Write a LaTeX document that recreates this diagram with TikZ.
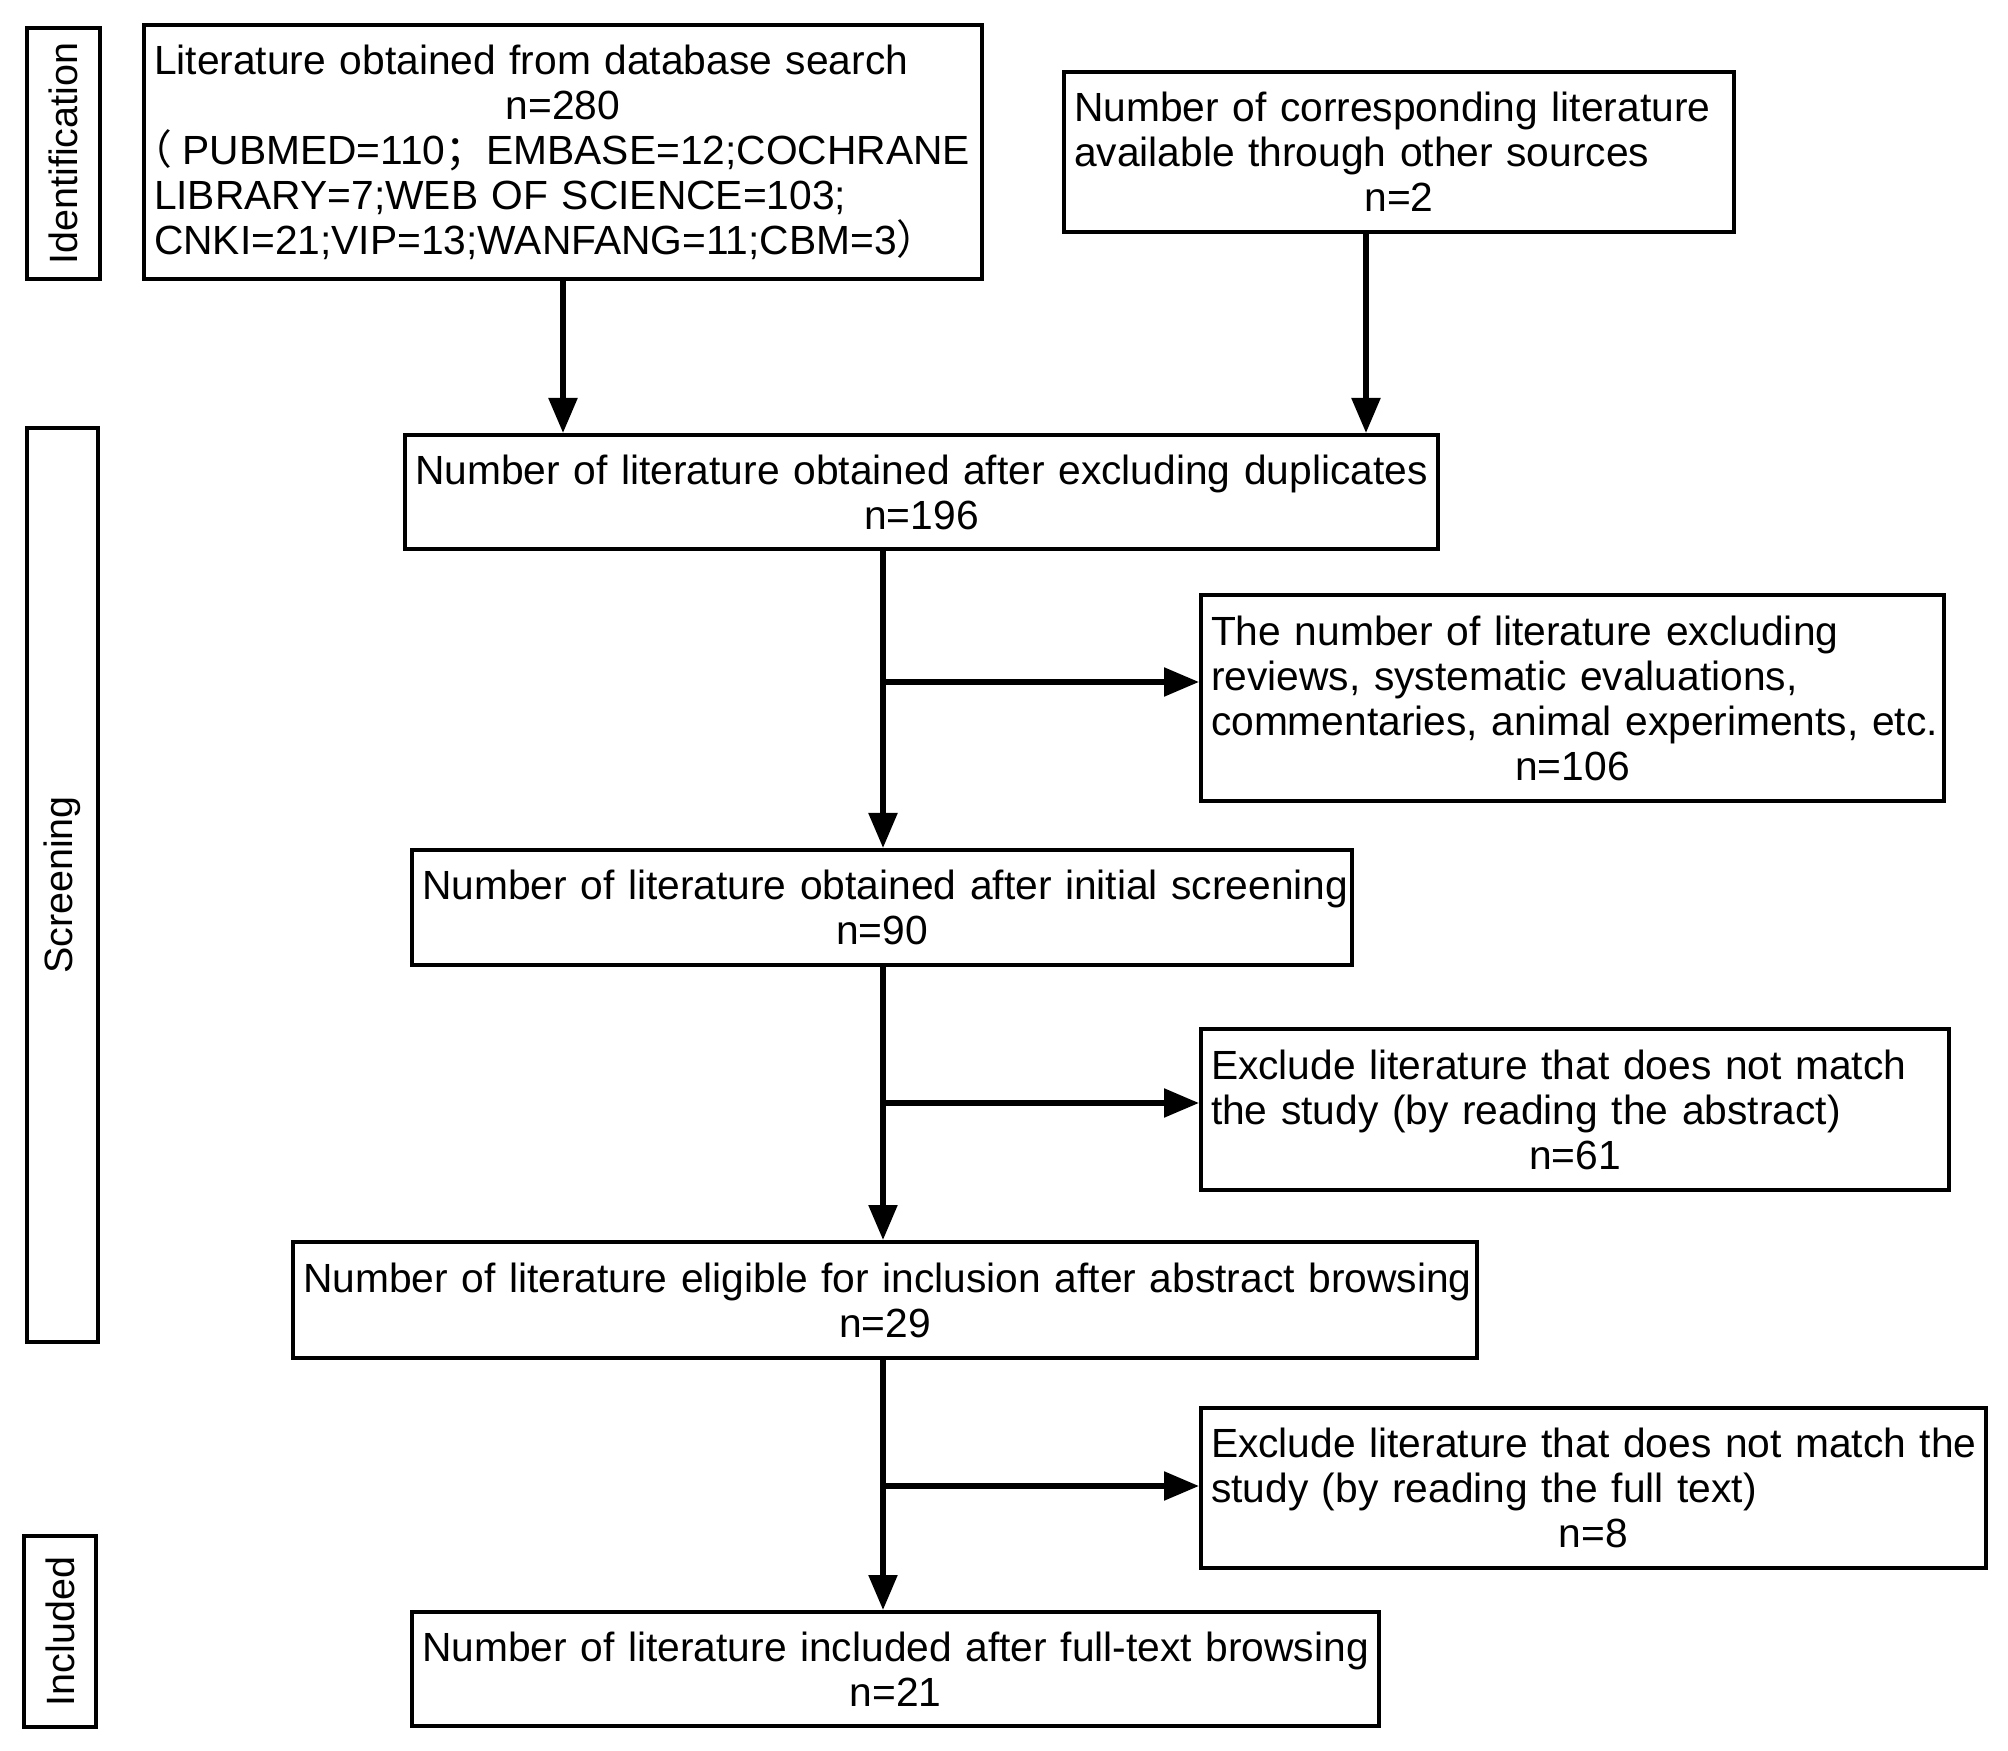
\documentclass[tikz,border=0pt]{standalone}
\usepackage{fontspec}
\setmainfont{Liberation Sans}
\newfontfamily\cjk{Noto Sans CJK SC}
\usetikzlibrary{arrows.meta}
\begin{document}
\begin{tikzpicture}[x=0.4pt,y=-0.4pt,
  bx/.style={draw, line width=1.6pt, anchor=north west, inner xsep=4pt, inner ysep=0pt,
             font=\fontsize{16.3}{18}\selectfont},
  lab/.style={draw, line width=1.6pt, inner sep=0pt, rotate=90,
             font=\fontsize{15.8}{18}\selectfont},
  arr/.style={line width=2.2pt, -{Triangle[length=14pt,width=11.2pt]}}
]
\useasboundingbox (0,0) rectangle (2008,1751);

% stage labels
\node[lab, minimum width=251*0.4pt, minimum height=73*0.4pt] (l1) at (63.5,153.5) {Identification};
\node[lab, minimum width=914*0.4pt, minimum height=71*0.4pt] (l2) at (62.5,885) {Screening};
\node[lab, minimum width=191*0.4pt, minimum height=72*0.4pt] (l3) at (60,1631.5) {Included};

% boxes
\node[bx, align=left, text width=327.2pt, minimum width=335.2pt, minimum height=101.6pt] (b1) at (142,23)
 {\mbox{Literature obtained from database search}\\
  \makebox[\hsize]{n=280}\\
  \mbox{\makebox[0.7em][l]{\hspace{-0.55em}{\cjk （}}PUBMED=110{\cjk ；}EMBASE=12;COCHRANE}\\
  \mbox{LIBRARY=7;WEB OF SCIENCE=103;}\\
  \mbox{CNKI=21;VIP=13;WANFANG=11;CBM=3{\cjk ）}}};

\node[bx, align=left, text width=260pt, minimum width=268pt, minimum height=64pt] (b2) at (1062,70)
 {\mbox{Number of corresponding literature}\\
  \mbox{available through other sources}\\
  \makebox[\hsize]{n=2}};

\node[bx, align=center, text width=405.2pt, minimum width=413.2pt, minimum height=45.6pt] (b3) at (403,433)
 {\mbox{Number of literature obtained after excluding duplicates}\\ n=196};

\node[bx, align=left, text width=289.2pt, minimum width=297.2pt, minimum height=82.4pt] (b4) at (1199,593)
 {\mbox{The number of literature excluding}\\
  \mbox{reviews, systematic evaluations,}\\
  \mbox{commentaries, animal experiments, etc.}\\
  \makebox[\hsize]{n=106}};

\node[bx, align=center, text width=368pt, minimum width=376pt, minimum height=46pt] (b5) at (410,848)
 {\mbox{Number of literature obtained after initial screening}\\ n=90};

\node[bx, align=left, text width=291.2pt, minimum width=299.2pt, minimum height=64.4pt] (b6) at (1199,1027)
 {\mbox{Exclude literature that does not match}\\
  \mbox{the study (by reading the abstract)}\\
  \makebox[\hsize]{n=61}};

\node[bx, align=center, text width=465.6pt, minimum width=473.6pt, minimum height=46.4pt] (b7) at (291,1240)
 {\mbox{Number of literature eligible for inclusion after abstract browsing}\\ n=29};

\node[bx, align=left, text width=306pt, minimum width=314pt, minimum height=64pt] (b8) at (1199,1406)
 {\mbox{Exclude literature that does not match the}\\
  \mbox{study (by reading the full text)}\\
  \makebox[\hsize]{n=8}};

\node[bx, align=center, text width=378.8pt, minimum width=386.8pt, minimum height=45.6pt] (b9) at (410,1610)
 {\mbox{Number of literature included after full-text browsing}\\ n=21};

% helper coordinates
\coordinate (mx) at (883,0);
\coordinate (x2) at (1366,0);
\coordinate (j1) at (883,682);
\coordinate (j2) at (883,1103);
\coordinate (j3) at (883,1486);

% connectors
\draw[arr] (b1.south) -- (b1.south |- b3.north);
\draw[arr] (b2.south -| x2) -- (b3.north -| x2);
\draw[arr] (b3.south -| mx) -- (b5.north -| mx);
\draw[arr] (b5.south -| mx) -- (b7.north -| mx);
\draw[arr] (b7.south -| mx) -- (b9.north -| mx);
\draw[arr] (j1) -- (j1 -| b4.west);
\draw[arr] (j2) -- (j2 -| b6.west);
\draw[arr] (j3) -- (j3 -| b8.west);
\end{tikzpicture}
\end{document}
